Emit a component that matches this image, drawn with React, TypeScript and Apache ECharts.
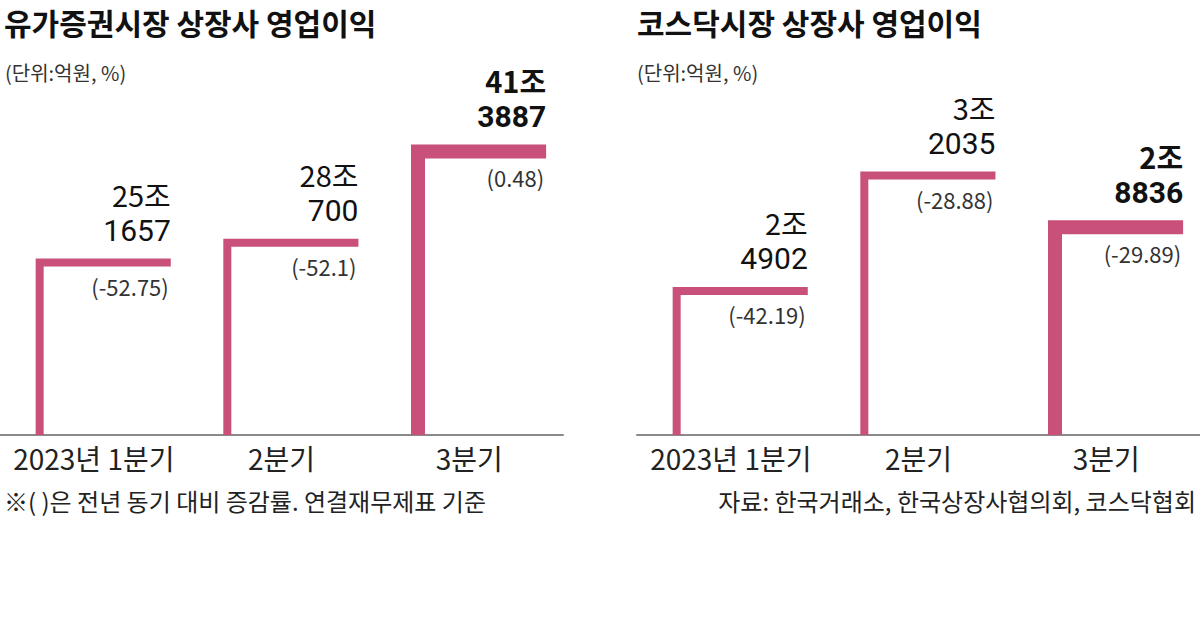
import React, { useEffect, useRef } from "react";
import * as echarts from "echarts";

// ---- data (억원, %) ----
const categories = ["2023년 1분기", "2분기", "3분기"];
const kospiProfit = [251657, 280700, 413887];
const kospiChange = [-52.75, -52.1, 0.48];
const kosdaqProfit = [24902, 32035, 28836];
const kosdaqChange = [-42.19, -28.88, -29.89];

const titles = ["유가증권시장 상장사 영업이익", "코스닥시장 상장사 영업이익"];
const unitLabel = "(단위:억원, %)";
const footnote = "※( )은 전년 동기 대비 증감률. 연결재무제표 기준";
const sourceNote = "자료: 한국거래소, 한국상장사협의회, 코스닥협회";

const FONT = "'Noto Sans CJK KR', 'Noto Sans', sans-serif";
const NUM_FONT = "Roboto, 'Liberation Sans', sans-serif";
const PINK = "#c8507a";

function makeRender(changes: number[], n: number) {
  return (params: any, api: any) => {
    const idx = api.value(0) as number;
    const val = api.value(1) as number;
    const pt = api.coord([idx, val]);
    const cx = pt[0];
    const cy = pt[1];
    const bw = api.size([1, 0])[0];
    const cs = params.coordSys;
    const baseY = cs.y + cs.height;
    const isLast = idx === n - 1;
    const lw = isLast ? 14 : 8;
    const left = cx - 0.31 * bw;
    const right = cx + 0.41 * bw;
    const xv = left + lw / 2;
    const jo = `${Math.floor(val / 10000)}조`;
    const rest = `${val % 10000}`;
    const weight = isLast ? "bold" : "normal";
    const topEdge = cy - lw / 2;
    const y2 = topEdge - 43;
    const y1 = y2 - 36;
    return {
      type: "group",
      children: [
        {
          type: "polyline",
          shape: { points: [[xv, baseY], [xv, cy], [right, cy]] },
          style: { stroke: PINK, lineWidth: lw, fill: "none", lineJoin: "miter", lineCap: "butt" },
        },
        {
          type: "text",
          style: {
            text: jo,
            x: right,
            y: y1,
            align: "right",
            verticalAlign: "top",
            fontSize: 29,
            fontWeight: weight,
            fontFamily: FONT,
            fill: "#111",
          },
        },
        {
          type: "text",
          style: {
            text: rest,
            x: right,
            y: y2,
            align: "right",
            verticalAlign: "top",
            fontSize: 30,
            fontWeight: weight,
            fontFamily: NUM_FONT,
            fill: "#111",
          },
        },
        {
          type: "text",
          style: {
            text: `(${changes[idx]})`,
            x: right - 2,
            y: cy + lw / 2 + 8,
            align: "right",
            verticalAlign: "top",
            fontSize: 22,
            fontFamily: FONT,
            fill: "#333",
          },
        },
      ],
    };
  };
}

function xAxisFor(gridIndex: number) {
  return {
    gridIndex,
    type: "category",
    data: categories,
    axisLine: { lineStyle: { color: "#8a8a8a", width: 2 } },
    axisTick: { show: false },
    axisLabel: { fontSize: 28, color: "#222", margin: 9, interval: 0, fontFamily: FONT },
  };
}

export default function App() {
  const ref = useRef<HTMLDivElement>(null);
  useEffect(() => {
    if (!ref.current) return;
    const chart = echarts.init(ref.current, undefined, { renderer: "svg" });
    const txt = (text: string, x: number, y: number, size: number, extra: any = {}) => ({
      type: "text",
      x,
      y,
      style: {
        text,
        fontSize: size,
        fontFamily: FONT,
        fill: "#222",
        verticalAlign: "top",
        ...extra,
      },
    });
    chart.setOption({
      animation: false,
      backgroundColor: "#ffffff",
      grid: [
        { left: 0, width: 563, top: 92.5, height: 342.5 },
        { left: 637, width: 563, top: 95.2, height: 339.8 },
      ],
      xAxis: [xAxisFor(0), xAxisFor(1)],
      yAxis: [
        { gridIndex: 0, type: "value", min: 0, max: 500000, show: false },
        { gridIndex: 1, type: "value", min: 16000, max: 37000, show: false },
      ],
      series: [
        {
          type: "custom",
          xAxisIndex: 0,
          yAxisIndex: 0,
          data: kospiProfit.map((v, i) => [i, v]),
          renderItem: makeRender(kospiChange, kospiProfit.length),
        },
        {
          type: "custom",
          xAxisIndex: 1,
          yAxisIndex: 1,
          data: kosdaqProfit.map((v, i) => [i, v]),
          renderItem: makeRender(kosdaqChange, kosdaqProfit.length),
        },
      ],
      graphic: [
        txt(titles[0], 4, 7, 30, { fontWeight: "bold", fill: "#111" }),
        txt(titles[1], 637, 7, 30, { fontWeight: "bold", fill: "#111" }),
        txt(unitLabel, 5, 62, 20, { fill: "#333" }),
        txt(unitLabel, 637, 62, 20, { fill: "#333" }),
        txt(footnote, 4, 488, 24),
        txt(sourceNote, 1196, 488, 24, { align: "right" }),
      ],
    });
    return () => chart.dispose();
  }, []);
  return (
    <div
      ref={ref}
      style={{ position: "fixed", left: 0, top: 0, width: 1200, height: 618, background: "#fff" }}
    />
  );
}
